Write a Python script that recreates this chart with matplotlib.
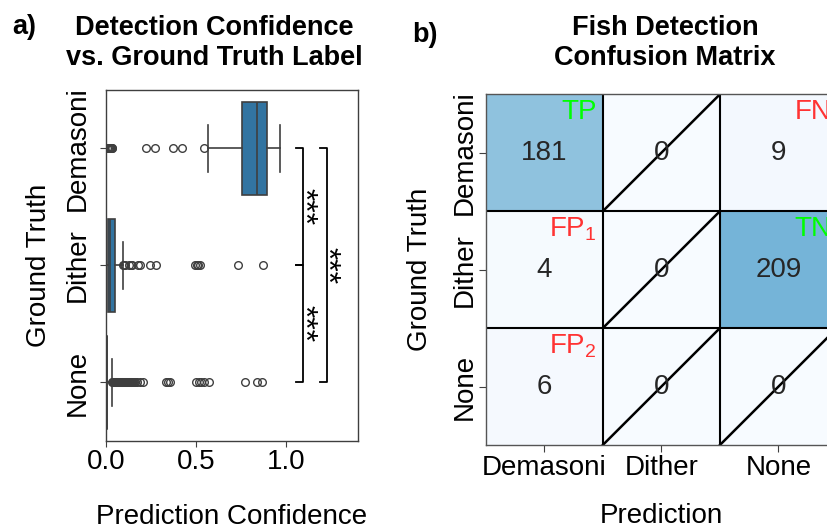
import numpy as np
import matplotlib
matplotlib.use("Agg")
import matplotlib.pyplot as plt

plt.rcParams.update({
    "font.family": ["Liberation Sans", "DejaVu Sans"],
    "font.size": 20,
    "mathtext.fontset": "custom",
    "mathtext.rm": "Liberation Sans",
    "mathtext.it": "Liberation Sans:italic",
})

# ---- panel a data (box statistics) ----
groups = ["Demasoni", "Dither", "None"]
q1 = [0.756, 0.013, 0.001]
med = [0.837, 0.020, 0.004]
q3 = [0.893, 0.050, 0.008]
whislo = [0.567, 0.002, 0.000]
whishi = [0.967, 0.093, 0.032]
fliers_demasoni = [0.008, 0.012, 0.016, 0.020, 0.024, 0.028, 0.032, 0.035,
                   0.220, 0.272, 0.370, 0.420, 0.544]
fliers_dither = [0.096, 0.102, 0.108, 0.130, 0.137, 0.145, 0.178, 0.190,
                 0.244, 0.280, 0.494, 0.503, 0.512, 0.522, 0.735, 0.874]
fliers_none = [0.034, 0.036, 0.038, 0.041, 0.043, 0.046, 0.048, 0.051, 0.053,
               0.056, 0.058, 0.061, 0.063, 0.066, 0.068, 0.071, 0.073, 0.076,
               0.078, 0.081, 0.083, 0.086, 0.088, 0.091, 0.093, 0.096, 0.098,
               0.101, 0.104, 0.107, 0.110, 0.113, 0.116, 0.119, 0.122, 0.125,
               0.128, 0.132, 0.136, 0.140, 0.145, 0.150, 0.156, 0.163, 0.170,
               0.188, 0.205, 0.335, 0.345, 0.355, 0.500, 0.515, 0.530, 0.545,
               0.570, 0.772, 0.837, 0.866]
fliers = [fliers_demasoni, fliers_dither, fliers_none]
sig_stars = ["***", "***", "***"]

# ---- panel b data ----
pred_labels = ["Demasoni", "Dither", "None"]
truth_labels = ["Demasoni", "Dither", "None"]
cm = np.array([[181, 0, 9],
               [4, 0, 209],
               [6, 0, 0]])
cell_tags = {(0, 0): ("TP", "lime"), (0, 2): ("FN", "#ff3333"),
             (1, 0): ("FP$_1$", "#ff3333"), (1, 2): ("TN", "lime"),
             (2, 0): ("FP$_2$", "#ff3333")}

BOX = "#3274a1"
LINE = "#3f3f3f"

fig = plt.figure(figsize=(8.27, 5.32), dpi=100)
ax_a = fig.add_axes([0.1282, 0.1711, 0.3047, 0.6598])
ax_b = fig.add_axes([0.5873, 0.1635, 0.4248, 0.6592])

# ---------------- panel a ----------------
stats = []
for i, g in enumerate(groups):
    stats.append(dict(label=g, q1=q1[i], med=med[i], q3=q3[i],
                      whislo=whislo[i], whishi=whishi[i], fliers=fliers[i]))
ax_a.bxp(stats, positions=[0, 1, 2], widths=0.8, capwidths=0.4,
         orientation="horizontal", patch_artist=True,
         boxprops=dict(facecolor=BOX, edgecolor=LINE, linewidth=1.2),
         whiskerprops=dict(color=LINE, linewidth=1.2),
         capprops=dict(color=LINE, linewidth=1.2),
         medianprops=dict(color=LINE, linewidth=1.2),
         flierprops=dict(marker="o", markerfacecolor="none",
                         markeredgecolor=LINE, markersize=5.5,
                         markeredgewidth=1.0))
ax_a.set_xlim(0, 1.4)
ax_a.set_ylim(2.5, -0.5)
ax_a.set_xticks([0, 0.5, 1.0])
ax_a.set_xticklabels(["0.0", "0.5", "1.0"])
ax_a.set_yticks([0, 1, 2])
ax_a.set_yticklabels(groups, rotation=90, va="center")
ax_a.tick_params(axis="x", length=4, pad=2, color=LINE)
ax_a.tick_params(axis="y", length=4, pad=7, color=LINE)
for sp in ax_a.spines.values():
    sp.set_color(LINE)
    sp.set_linewidth(1.0)
ax_a.set_xlabel("Prediction Confidence", labelpad=21)
ax_a.set_ylabel("Ground Truth", labelpad=9)

# significance brackets
brackets = [(0, 1, 1.096, 0.04), (1, 2, 1.096, 0.04), (0, 2, 1.226, 0.035)]
for (y0, y1, xb, tip), s in zip(brackets, sig_stars):
    ax_a.plot([xb - tip, xb, xb, xb - tip], [y0, y0, y1, y1],
              color="black", lw=1.3, clip_on=False)
    ax_a.text(xb - 0.005, (y0 + y1) / 2, s, rotation=270, ha="center",
              va="center", fontsize=23)

# ---------------- panel b ----------------
ax_b.pcolormesh(np.arange(4), np.arange(4), cm, cmap="Blues", vmin=0, vmax=440)
ax_b.set_xlim(0, 3)
ax_b.set_ylim(3, 0)
for k in (1, 2, 3):
    ax_b.axvline(k, color="black", lw=1.5)
    if k < 3:
        ax_b.axhline(k, color="black", lw=1.5)
for i in range(3):
    for j in range(3):
        ax_b.text(j + 0.5, i + 0.5, str(cm[i, j]), ha="center", va="center",
                  color="#262626", fontsize=20)
        if cm[i, j] == 0:
            ax_b.plot([j, j + 1], [i + 1, i], color="black", lw=1.8)
for (i, j), (tag, col) in cell_tags.items():
    ax_b.text(j + 0.95, i + 0.04, tag, ha="right", va="top", color=col,
              fontsize=20)
ax_b.set_xticks([0.5, 1.5, 2.5])
ax_b.set_xticklabels(pred_labels)
ax_b.set_yticks([0.5, 1.5, 2.5])
ax_b.set_yticklabels(truth_labels, rotation=90, va="center")
ax_b.tick_params(axis="x", length=5, pad=2, color=LINE)
ax_b.tick_params(axis="y", length=5, pad=1, color=LINE)
for sp in ax_b.spines.values():
    sp.set_color("#555555")
    sp.set_linewidth(1.0)
ax_b.set_xlabel("Prediction", labelpad=16)
ax_b.set_ylabel("Ground Truth", labelpad=13)

# titles and panel letters
fig.text(0.2588, 0.971, "Detection Confidence\nvs. Ground Truth Label",
         ha="center", va="top", fontsize=19.5, fontweight="bold")
fig.text(0.804, 0.971, "Fish Detection\nConfusion Matrix",
         ha="center", va="top", fontsize=19.5, fontweight="bold")
fig.text(0.015, 0.974, "a)", ha="left", va="top", fontsize=19.5,
         fontweight="bold")
fig.text(0.499, 0.959, "b)", ha="left", va="top", fontsize=19.5,
         fontweight="bold")

fig.savefig("out.png", dpi=100)
